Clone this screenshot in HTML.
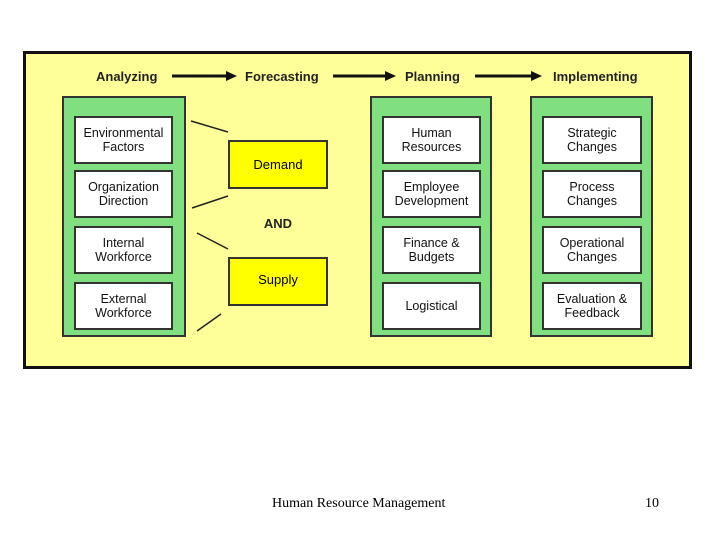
<!DOCTYPE html>
<html><head><style>
body{margin:0;width:720px;height:540px;background:#fff;position:relative;overflow:hidden;font-family:"Liberation Sans",sans-serif}
.a{position:absolute;box-sizing:border-box}
.outer{left:23px;top:51px;width:669px;height:318px;background:#FFFF99;border:3px solid #111}
.g{background:#80E080;border:2px solid #333;top:96px;height:241px}
.b{background:#fff;border:2px solid #333;display:flex;align-items:center;justify-content:center;text-align:center;font-size:12.5px;line-height:14px;color:#111}
.y{background:#FFFF00;border:2px solid #333;display:flex;align-items:center;justify-content:center;font-size:13px}
.h{font-weight:bold;font-size:13px;top:69px;color:#222}
</style></head><body>
<div class="a outer"></div>
<div class="a h" style="left:96px">Analyzing</div>
<div class="a h" style="left:245px">Forecasting</div>
<div class="a h" style="left:405px">Planning</div>
<div class="a h" style="left:553px">Implementing</div>
<svg class="a" style="left:0;top:0" width="720" height="540">
<g stroke="#111" stroke-width="3"><line x1="172" y1="76" x2="228" y2="76"/><line x1="333" y1="76" x2="387" y2="76"/><line x1="475" y1="76" x2="533" y2="76"/></g>
<g fill="#111"><polygon points="226,71 237,76 226,81"/><polygon points="385,71 396,76 385,81"/><polygon points="531,71 542,76 531,81"/></g>
<g stroke="#222" stroke-width="1.5"><line x1="191" y1="121" x2="228" y2="132"/><line x1="192" y1="208" x2="228" y2="196"/><line x1="197" y1="233" x2="228" y2="249"/><line x1="197" y1="331" x2="221" y2="314"/></g>
</svg>
<div class="a g" style="left:62px;width:124px"></div>
<div class="a b" style="left:74px;top:116px;width:99px;height:48px">Environmental<br>Factors</div>
<div class="a b" style="left:74px;top:170px;width:99px;height:48px">Organization<br>Direction</div>
<div class="a b" style="left:74px;top:226px;width:99px;height:48px">Internal<br>Workforce</div>
<div class="a b" style="left:74px;top:282px;width:99px;height:48px">External<br>Workforce</div>
<div class="a y" style="left:228px;top:140px;width:100px;height:49px">Demand</div>
<div class="a" style="left:228px;top:216px;width:100px;text-align:center;font-weight:bold;font-size:13px;color:#222">AND</div>
<div class="a y" style="left:228px;top:257px;width:100px;height:49px;padding-bottom:4px">Supply</div>
<div class="a g" style="left:370px;width:122px"></div>
<div class="a b" style="left:382px;top:116px;width:99px;height:48px">Human<br>Resources</div>
<div class="a b" style="left:382px;top:170px;width:99px;height:48px">Employee<br>Development</div>
<div class="a b" style="left:382px;top:226px;width:99px;height:48px">Finance &amp;<br>Budgets</div>
<div class="a b" style="left:382px;top:282px;width:99px;height:48px">Logistical</div>
<div class="a g" style="left:530px;width:123px"></div>
<div class="a b" style="left:542px;top:116px;width:100px;height:48px">Strategic<br>Changes</div>
<div class="a b" style="left:542px;top:170px;width:100px;height:48px">Process<br>Changes</div>
<div class="a b" style="left:542px;top:226px;width:100px;height:48px">Operational<br>Changes</div>
<div class="a b" style="left:542px;top:282px;width:100px;height:48px">Evaluation &amp;<br>Feedback</div>
<div class="a" style="left:272px;top:496px;font-family:'Liberation Serif',serif;font-size:14px">Human Resource Management</div>
<div class="a" style="left:645px;top:496px;font-family:'Liberation Serif',serif;font-size:14px">10</div>
</body></html>
